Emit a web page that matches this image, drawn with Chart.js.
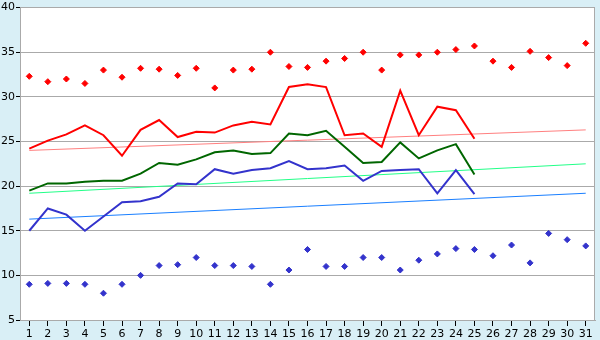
<!DOCTYPE html>
<html><head><meta charset="utf-8">
<script src="https://cdn.jsdelivr.net/npm/chart.js@4/dist/chart.umd.min.js"></script>
<style>html,body{margin:0;padding:0;background:#d9eff6;}#wrap{width:600px;height:340px;}</style>
</head><body><div id="wrap"><canvas id="c" width="600" height="340"></canvas></div>
<script>
const days = ['1','2','3','4','5','6','7','8','9','10','11','12','13','14','15','16','17','18','19','20','21','22','23','24','25','26','27','28','29','30','31'];
const yTicks = [5,10,15,20,25,30,35,40];
const maxPoints = [32.3,31.7,32.0,31.5,33.0,32.2,33.2,33.1,32.4,33.2,31.0,33.0,33.1,35.0,33.4,33.3,34.0,34.3,35.0,33.0,34.7,34.7,35.0,35.3,35.7,34.0,33.3,35.1,34.4,33.5,36.0];
const minPoints = [9.0,9.1,9.1,9.0,8.0,9.0,10.0,11.1,11.2,12.0,11.1,11.1,11.0,9.0,10.6,12.9,11.0,11.0,12.0,12.0,10.6,11.7,12.4,13.0,12.9,12.2,13.4,11.4,14.7,14.0,13.3];
const highLine = [24.2,25.1,25.8,26.8,25.7,23.4,26.3,27.4,25.5,26.1,26.0,26.8,27.2,26.9,31.1,31.4,31.1,25.7,25.9,24.4,30.7,25.7,28.9,28.5,25.3];
const meanLine = [19.5,20.3,20.3,20.5,20.6,20.6,21.4,22.6,22.4,23.0,23.8,24.0,23.6,23.7,25.9,25.7,26.2,24.4,22.6,22.7,24.9,23.1,24.0,24.7,21.3];
const lowLine = [15.0,17.5,16.8,15.0,16.6,18.2,18.3,18.8,20.3,20.2,21.9,21.4,21.8,22.0,22.8,21.9,22.0,22.3,20.6,21.7,21.8,21.9,19.2,21.8,19.1];
const highTrend = [24.0, 26.3];
const meanTrend = [19.2, 22.5];
const lowTrend = [16.3, 19.2];

function trend(vals){ return [{x: days[0], y: vals[0]}, {x: days[days.length-1], y: vals[1]}]; }

const bgPlugin = {
  id: 'bg',
  beforeDraw(chart){
    const {ctx, chartArea:a} = chart;
    ctx.save(); ctx.fillStyle = '#ffffff';
    ctx.fillRect(a.left, a.top, a.right-a.left, a.bottom-a.top); ctx.restore();
  },
  afterDatasetsDraw(chart){
    const {ctx, chartArea:a} = chart;
    ctx.save(); ctx.strokeStyle = '#aaaaaa'; ctx.lineWidth = 1;
    ctx.beginPath(); ctx.moveTo(Math.round(a.right)-0.5, a.top); ctx.lineTo(Math.round(a.right)-0.5, a.bottom); ctx.stroke();
    ctx.restore();
  }
};

new Chart(document.getElementById('c'), {
  type: 'line',
  data: {
    labels: days,
    datasets: [
      {data: maxPoints, showLine: false, pointStyle: 'rectRot', pointRadius: 3, pointBackgroundColor: '#ff0000', pointBorderColor: '#ff0000', borderColor: '#ff0000', pointBorderWidth: 1, order: 1},
      {data: minPoints, showLine: false, pointStyle: 'rectRot', pointRadius: 3, pointBackgroundColor: '#3333cc', pointBorderColor: '#3333cc', borderColor: '#3333cc', pointBorderWidth: 1, order: 1},
      {data: highLine, borderColor: '#ff0000', borderWidth: 2, pointRadius: 0, tension: 0, order: 5},
      {data: meanLine, borderColor: '#006600', borderWidth: 2, pointRadius: 0, tension: 0, order: 5},
      {data: lowLine, borderColor: '#3333cc', borderWidth: 2, pointRadius: 0, tension: 0, order: 5},
      {data: trend(highTrend), borderColor: '#ff8080', borderWidth: 1, pointRadius: 0, order: 10},
      {data: trend(meanTrend), borderColor: '#22ff88', borderWidth: 1, pointRadius: 0, order: 10},
      {data: trend(lowTrend), borderColor: '#1a7fff', borderWidth: 1, pointRadius: 0, order: 10}
    ]
  },
  options: {
    responsive: false, animation: false, devicePixelRatio: 1,
    layout: {padding: {top: 5, right: 5, left: 0, bottom: 0}},
    plugins: {legend: {display: false}, tooltip: {enabled: false}},
    scales: {
      x: {
        type: 'category', offset: true,
        grid: {drawOnChartArea: false, drawTicks: true, tickLength: 6, tickColor: '#000'},
        border: {color: '#aaaaaa'},
        ticks: {color: '#000', font: {family: 'DejaVu Sans', size: 11}, padding: 2, maxRotation: 0, autoSkip: false},
        afterFit(s){ s.height = 20; }
      },
      y: {
        min: 5, max: 40,
        afterBuildTicks(s){ s.ticks = yTicks.map(v => ({value: v})); },
        grid: {color: '#aaaaaa', tickColor: '#000', tickLength: 4},
        border: {color: '#aaaaaa'},
        ticks: {color: '#000', font: {family: 'DejaVu Sans', size: 11}, padding: 1},
        afterFit(s){ s.width = 20; }
      }
    }
  },
  plugins: [bgPlugin]
});
</script></body></html>
